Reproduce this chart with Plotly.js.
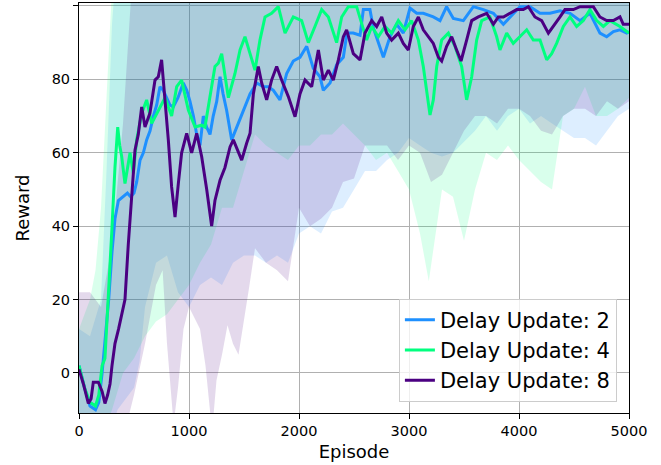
<!DOCTYPE html>
<html>
<head>
<meta charset="utf-8">
<script src="https://cdn.plot.ly/plotly-3.0.1.min.js"></script>
<style>html,body{margin:0;padding:0;background:#fff}#chart{width:661px;height:465px}</style>
</head>
<body>
<div id="chart"></div>
<script>
// ---- series names ----
const seriesNames = ["Delay Update: 2", "Delay Update: 4", "Delay Update: 8"];
const xTicks = [0, 1000, 2000, 3000, 4000, 5000];
const yTicks = [0, 20, 40, 60, 80, 100];

// ---- mean curves ----
const blueX = [0,50,100,150,180,210,240,270,300,327,358,400,440,470,500,524,555,585,615,646,676,706,736,766,797,827,857,900,948,980,1009,1040,1070,1100,1130,1160,1191,1220,1252,1282,1310,1342,1388,1433,1494,1555,1615,1676,1720,1767,1827,1888,1948,2009,2070,2130,2191,2221,2282,2342,2403,2436,2493,2555,2585,2645,2676,2736,2767,2827,2888,2948,3009,3070,3130,3221,3282,3342,3403,3494,3585,3676,3767,3858,3918,4009,4100,4191,4282,4373,4464,4555,4645,4736,4797,4858,4918,4979,5000];
const blueY = [2,-4,-9,-10,-8,0,10,20,33,42,47,48,49,48,49,52,58,60,63.5,66,70,73,78,77,75,73,72.5,75,79,77,74,70,65,62,70,67,65,70,74,80.7,76,71.6,63.5,67,71.6,76,79,78,78,77,74.4,81.6,85,86,89,83,80.7,77,79,84,86,92.6,92.6,92,99,99,94,89,86,91.6,95,92.6,99.4,98,98,97,96,99.8,96.6,96,99.8,99,98,95,97,99.8,99.8,98,98,98.7,98,96,98,92.6,91.6,93,93.5,92.6,93];

const greenX = [0,50,100,150,180,210,236,267,297,327,352,370,388,418,440,464,494,524,570,615,661,721,782,842,888,933,994,1055,1115,1145,1176,1206,1236,1267,1297,1358,1418,1464,1509,1555,1600,1645,1691,1751,1812,1873,1948,2024,2085,2145,2206,2267,2342,2388,2448,2524,2570,2615,2661,2721,2782,2842,2903,2964,3024,3085,3130,3176,3191,3221,3252,3297,3358,3418,3479,3524,3570,3615,3661,3736,3797,3827,3888,3948,4009,4070,4130,4191,4252,4297,4342,4403,4464,4524,4585,4645,4706,4767,4827,4918,5000];
const greenY = [2,-4,-8,-9,-6,2,4,20,38,56,67,62,59,51.6,56,60,54.4,63.5,70.7,74.4,68,71.6,75,70,78,79.8,71.6,67,67.5,67,72.5,78,83.5,84.4,87,75,81.6,88,91.6,87,82.5,90.7,97,98,99.8,92.6,97,96,90,94.4,99,97,90,97,99.8,99.8,95,90.7,94.4,91.6,94.4,92.6,96,93.5,96,90.7,83.5,74.4,70.3,74.4,83.5,90.7,92.6,89,83.5,74.4,80.7,90.7,96,97,91.6,88,92.6,89.8,91.6,93.5,90.7,90.7,85.3,87,89.8,94.4,97,94.4,96,99,96,94.4,96,94.4,92.6];

const purpleX = [0,40,85,110,130,176,210,236,260,282,300,327,360,388,418,448,479,509,539,570,600,645,691,721,751,782,812,842,873,903,933,979,1024,1070,1115,1161,1206,1236,1282,1327,1373,1403,1448,1479,1524,1555,1585,1630,1661,1706,1751,1797,1842,1903,1964,2009,2055,2115,2176,2221,2267,2312,2358,2403,2433,2494,2555,2600,2661,2706,2752,2797,2842,2903,2948,2994,3039,3085,3130,3176,3221,3267,3297,3342,3388,3433,3473,3524,3570,3630,3706,3767,3812,3858,3918,3979,4039,4085,4145,4206,4267,4312,4373,4418,4494,4555,4676,4736,4797,4858,4918,4948,5000];
const purpleY = [1,-3,-8.3,-7,-2.5,-2.5,-5,-8.3,-6,-3,2,8,12,16,20,35,47,60.7,65,72.5,67,70.8,79.8,80.7,85.3,74.4,63.5,50.7,42.5,51.6,60,65.3,60,65.3,59,50,40,47,52.5,56,61.6,63.5,60,58,62.6,65.3,76,83.5,79,74.4,79.8,83.5,79.8,75.3,69.8,76,79.8,78,88,79.8,82.5,79.8,85.3,91.6,93.5,87,85.3,92.6,96,94.4,97,92.6,90.7,92.6,89.8,88,94.4,97,93.5,91.6,89.8,86,85,89,91.6,88,85,90.7,96,97,98,95,97,97,98,99,99,99.8,97,96,92.6,94.4,97,99,99,99.8,99.8,97,96,96,97,95,95];

// ---- spread bands (lower / upper edges) ----
const blueLowX = [0,100,200,250,300,350,400,450,500,550,600,700,800,900,1000,1100,1200,1300,1400,1500,1600,1700,1800,1900,2000,2100,2200,2300,2400,2500,2600,2700,2800,2900,3000,3100,3200,3300,3400,3500,3600,3700,3800,3900,4000,4100,4200,4300,4400,4500,4600,4700,4800,4900,5000];
const blueLow = [-20,-20,-20,-18,-15,-10,-8,-6,-4,3,18,30,32,22,18,24,26,24,30,32,32,30,32,30,38,40,38,44,45,50,55,55,58,60,64,62,60,59,60,63,66,70,66,70,72,68,70,68,66,64,64,62,66,70,72];
const blueUpX = [0,100,200,250,300,350,5000];
const blueUp = [12,10,20,55,95,115,120];

const greenLowX = [0,100,150,200,250,300,400,500,600,700,800,900,1000,1100,1200,1300,1400,1500,1600,1700,1800,1900,2000,2100,2200,2300,2400,2500,2600,2700,2800,2900,3000,3100,3180,3300,3400,3500,3600,3700,3800,3900,4000,4100,4200,4300,4400,4500,4600,4700,4800,4900,5000];
const greenLow = [-20,-20,-20,-18,-14,-10,0,4,10,14,16,20,24,30,35,45,45,55,65,62,60,58,62,62,65,65,68,65,62,58,60,55,50,38,25,50,48,36,50,60,58,62,58,55,52,50,70,72,78,70,70,72,75];
const greenUpX = [0,100,150,200,250,300,5000];
const greenUp = [12,20,28,45,75,105,120];

const purpleLowX = [0,100,200,300,400,450,500,600,700,760,800,860,900,950,1000,1100,1150,1210,1250,1300,1350,1400,1450,1500,1550,1600,1700,1800,1900,2000,2100,2200,2300,2400,2500,2600,2700,2800,2900,3000,3100,3200,3300,3400,3500,3600,3700,3800,3900,4000,4100,4200,4300,4400,4500,4600,4700,4800,4900,5000];
const purpleLow = [-20,-20,-20,-20,-16,-12,-6,8,24,28,8,-14,-4,12,18,12,2,-16,-2,5,13,8,5,14,24,34,30,28,25,45,40,42,45,52,53,62,62,62,58,62,60,52,54,60,66,70,70,68,72,72,70,66,65,70,72,72,70,74,72,74];
const purpleUpX = [0,100,200,300,400,450,500,5000];
const purpleUp = [22,22,18,35,68,90,115,120];

const lineColors = ["#1E90FF", "#00FF7F", "#4B0082"];
const bandColors = ["rgba(30,144,255,0.15)", "rgba(0,255,127,0.15)", "rgba(75,0,130,0.15)"];

const bands = [
  [blueLowX, blueLow, blueUpX, blueUp],
  [greenLowX, greenLow, greenUpX, greenUp],
  [purpleLowX, purpleLow, purpleUpX, purpleUp]
];
const means = [[blueX, blueY], [greenX, greenY], [purpleX, purpleY]];

const traces = [];
bands.forEach((b, i) => {
  traces.push({x: b[0], y: b[1], type: "scatter", mode: "lines", line: {width: 0, color: bandColors[i]}, showlegend: false, hoverinfo: "skip"});
  traces.push({x: b[2], y: b[3], type: "scatter", mode: "lines", line: {width: 0, color: bandColors[i]}, fill: "tonexty", fillcolor: bandColors[i], showlegend: false, hoverinfo: "skip"});
});
means.forEach((m, i) => {
  traces.push({x: m[0], y: m[1], type: "scatter", mode: "lines", name: seriesNames[i], line: {width: 3, color: lineColors[i]}});
});

const axisFont = {family: "DejaVu Sans", size: 14.5, color: "#000"};
const layout = {
  width: 661, height: 465,
  margin: {l: 79, r: 32, t: 3, b: 52},
  paper_bgcolor: "#fff", plot_bgcolor: "#fff",
  font: {family: "DejaVu Sans", color: "#000"},
  xaxis: {
    range: [0, 5000], tickvals: xTicks, ticktext: xTicks.map(String),
    showgrid: true, gridcolor: "#b0b0b0", gridwidth: 1, zeroline: false,
    showline: true, mirror: true, linecolor: "#000", linewidth: 1,
    ticks: "outside", ticklen: 5, tickcolor: "#000", tickfont: axisFont,
    title: {text: "Episode", font: {family: "DejaVu Sans", size: 18, color: "#000"}, standoff: 6}
  },
  yaxis: {
    range: [-10.9, 100.8], tickvals: yTicks, ticktext: yTicks.map(String),
    showgrid: true, gridcolor: "#b0b0b0", gridwidth: 1, zeroline: false,
    showline: true, mirror: true, linecolor: "#000", linewidth: 1,
    ticks: "outside", ticklen: 5, tickcolor: "#000", tickfont: axisFont,
    title: {text: "Reward", font: {family: "DejaVu Sans", size: 18, color: "#000"}, standoff: 17}
  },
  legend: {
    x: 0.978, y: 0.028, xanchor: "right", yanchor: "bottom", traceorder: "normal",
    bgcolor: "rgba(255,255,255,0.8)", bordercolor: "#cccccc", borderwidth: 1,
    font: {family: "DejaVu Sans", size: 21, color: "#000"}
  },
  showlegend: true
};

Plotly.newPlot("chart", traces, layout, {staticPlot: true, displayModeBar: false});
</script>
</body>
</html>
